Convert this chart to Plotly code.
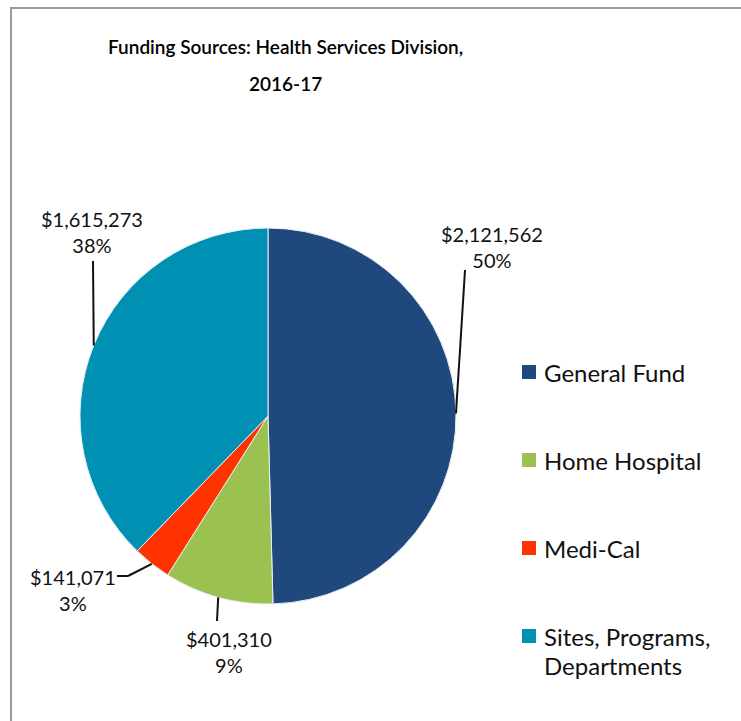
import math
import plotly.graph_objects as go

# Funding sources, 2016-17
categories = ["General Fund", "Home Hospital", "Medi-Cal", "Sites, Programs, Departments"]
legend_labels = ["General Fund", "Home Hospital", "Medi-Cal", "Sites, Programs,<br>Departments"]
amounts = [2121562, 401310, 141071, 1615273]
colors = ["#1f497d", "#9bc150", "#ff3300", "#0090b4"]
title_lines = ["Funding Sources: Health Services Division,", "2016-17"]

W, H = 741, 721
FONT = "Lato"

# pie placement (pixels)
CX, CY, R = 268, 416, 188


def px(x):
    return x / W


def py(y):
    return 1 - y / H


fig = go.Figure(go.Pie(
    labels=categories,
    values=amounts,
    marker=dict(colors=colors, line=dict(color="#e8eef4", width=1)),
    sort=False,
    direction="clockwise",
    rotation=0,
    textinfo="none",
    showlegend=False,
    domain=dict(x=[px(CX - R), px(CX + R)], y=[py(CY + R), py(CY - R)]),
))

total = sum(amounts)

# label placement per slice: text centre, leader end, optional elbow
label_layout = [
    dict(tx=492, ty=247, end=(465, 270), elbow=None),
    dict(tx=229, ty=652, end=(217, 621), elbow=None),
    dict(tx=73, ty=590, end=(117, 576), elbow=(128, 576)),
    dict(tx=92, ty=232, end=(93, 261), elbow=None),
]

shapes = []
annotations = []
cum = 0
for amt, lay in zip(amounts, label_layout):
    frac = amt / total
    mid = (cum + frac / 2) * 2 * math.pi
    cum += frac
    sx = CX + R * math.sin(mid)
    sy = CY - R * math.cos(mid)
    pts = [(sx, sy)]
    if lay["elbow"]:
        pts.append(lay["elbow"])
    pts.append(lay["end"])
    for (x0, y0), (x1, y1) in zip(pts[:-1], pts[1:]):
        shapes.append(dict(type="line", xref="paper", yref="paper",
                           x0=px(x0), y0=py(y0), x1=px(x1), y1=py(y1),
                           line=dict(color="#111111", width=2)))
    pct = round(frac * 100)
    annotations.append(dict(
        x=px(lay["tx"]), y=py(lay["ty"]), xref="paper", yref="paper",
        text=f"${amt:,}<br>{pct}%", showarrow=False, align="center",
        xanchor="center", yanchor="middle",
        font=dict(family=FONT, size=20, color="#111111"),
    ))

# legend entries: coloured square + label (first line level with the square)
LEG_X, LEG_Y0, LEG_DY, SQ, LINE = 522, 372, 88, 14, 29
for i, (lab, col) in enumerate(zip(legend_labels, colors)):
    yc = LEG_Y0 + i * LEG_DY
    shapes.append(dict(type="rect", xref="paper", yref="paper",
                       x0=px(LEG_X), x1=px(LEG_X + SQ),
                       y0=py(yc + SQ / 2), y1=py(yc - SQ / 2),
                       fillcolor=col, line=dict(width=0)))
    for k, part in enumerate(lab.split("<br>")):
        annotations.append(dict(
            x=px(LEG_X + SQ + 6), y=py(yc + k * LINE), xref="paper", yref="paper",
            text=part, showarrow=False, align="left",
            xanchor="left", yanchor="middle",
            font=dict(family=FONT, size=24, color="#111111"),
        ))

# outer frame
shapes.append(dict(type="rect", xref="paper", yref="paper",
                   x0=px(11), x1=1.02, y0=-0.02, y1=py(8),
                   line=dict(color="#9a9a9a", width=2), fillcolor="rgba(0,0,0,0)"))

# title, two centred lines
for k, line in enumerate(title_lines):
    annotations.append(dict(
        x=px(285), y=py(47 + k * 37), xref="paper", yref="paper",
        text=line, showarrow=False, align="center",
        xanchor="center", yanchor="middle",
        font=dict(family=FONT, size=19, weight=600, color="#000000"),
    ))

fig.update_layout(
    width=W, height=H,
    margin=dict(l=0, r=0, t=0, b=0),
    paper_bgcolor="white",
    plot_bgcolor="white",
    shapes=shapes,
    annotations=annotations,
)

fig.write_html("out.html")
